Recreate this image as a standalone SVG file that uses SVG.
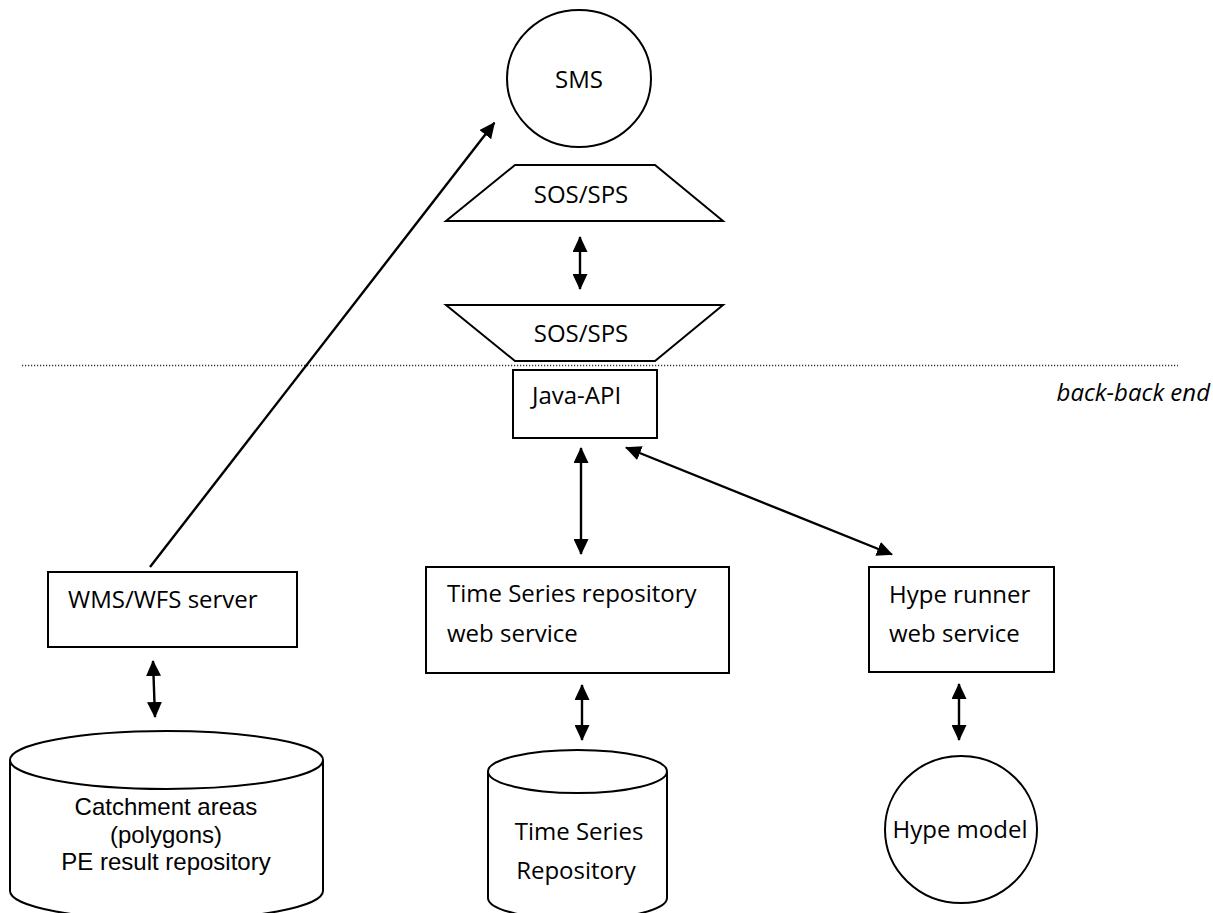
<svg xmlns="http://www.w3.org/2000/svg" width="1213" height="913" viewBox="0 0 1213 913">
  <style>
    .shape { fill: #ffffff; stroke: #000000; stroke-width: 2; }
    .lbl { font-family: "Open Sans", "Liberation Sans", sans-serif; font-size: 24px; fill: #000000; }
    .lbl-ar { font-family: "Liberation Sans", Arial, sans-serif; font-size: 24px; fill: #000000; }
    .mid { text-anchor: middle; }
    .conn { fill: none; stroke: #000000; stroke-width: 2.4; marker-end: url(#head); }
    .both { marker-start: url(#head); }
    .divider { stroke: #333333; stroke-width: 1.3; stroke-dasharray: 1.2 1.8; fill: none; }
  </style>
  <defs>
    <marker id="head" viewBox="0 0 16 15" refX="15" refY="7.5" markerWidth="16" markerHeight="15" markerUnits="userSpaceOnUse" orient="auto-start-reverse">
      <path d="M0,0 L16,7.5 L0,15 Z" fill="#000000"/>
    </marker>
  </defs>

  <rect width="1213" height="913" fill="#ffffff"/>

  <!-- tier divider -->
  <line class="divider" x1="22" y1="365.5" x2="1178" y2="365.5"/>
  <text class="lbl" x="1210" y="401" text-anchor="end" font-style="italic">back-back end</text>

  <g id="sms">
    <ellipse class="shape" cx="579" cy="78.5" rx="72" ry="68.5"/>
    <text class="lbl mid" x="579" y="88">SMS</text>
  </g>

  <g id="sos-sps-upper">
    <polygon class="shape" points="515,165 655,165 723,221 446,221"/>
    <text class="lbl mid" x="581" y="203">SOS/SPS</text>
  </g>

  <g id="sos-sps-lower">
    <polygon class="shape" points="446,305 723,305 655,361 515,361"/>
    <text class="lbl mid" x="581" y="342">SOS/SPS</text>
  </g>

  <g id="java-api">
    <rect class="shape" x="513" y="370" width="144" height="68"/>
    <text class="lbl" x="532" y="404">Java-API</text>
  </g>

  <g id="wms-wfs">
    <rect class="shape" x="48" y="572" width="249" height="75"/>
    <text class="lbl" x="68" y="608">WMS/WFS server</text>
  </g>

  <g id="ts-web-service">
    <rect class="shape" x="426" y="567" width="303" height="106"/>
    <text class="lbl" x="447" y="602">Time Series repository</text>
    <text class="lbl" x="447" y="642">web service</text>
  </g>

  <g id="hype-runner">
    <rect class="shape" x="869" y="567" width="185" height="105"/>
    <text class="lbl" x="889" y="603">Hype runner</text>
    <text class="lbl" x="889" y="642">web service</text>
  </g>

  <g id="catchment-db">
    <path class="shape" d="M10,760 L10,891 A156.5,29 0 0 0 323,891 L323,760"/>
    <ellipse class="shape" cx="166.5" cy="760" rx="156.5" ry="29"/>
    <text class="lbl-ar mid" x="166" y="815">Catchment areas</text>
    <text class="lbl-ar mid" x="166" y="843">(polygons)</text>
    <text class="lbl-ar mid" x="166" y="870">PE result repository</text>
  </g>

  <g id="ts-db">
    <path class="shape" d="M488,771.5 L488,898 A89.5,21.5 0 0 0 667,898 L667,771.5"/>
    <ellipse class="shape" cx="577.5" cy="771.5" rx="89.5" ry="21.5"/>
    <text class="lbl mid" x="579" y="840">Time Series</text>
    <text class="lbl mid" x="576" y="879">Repository</text>
  </g>

  <g id="hype-model">
    <ellipse class="shape" cx="961" cy="829.5" rx="76" ry="73.5"/>
    <text class="lbl mid" x="960" y="838">Hype model</text>
  </g>

  <g id="connectors">
    <line class="conn" x1="150" y1="567" x2="494.4" y2="122.8"/>
    <line class="conn both" x1="580" y1="237" x2="580" y2="289"/>
    <line class="conn both" x1="581" y1="448" x2="581" y2="554"/>
    <line class="conn both" x1="626" y1="447.5" x2="892" y2="554.5"/>
    <line class="conn both" x1="153" y1="661" x2="155" y2="717"/>
    <line class="conn both" x1="582" y1="685" x2="582" y2="740"/>
    <line class="conn both" x1="959" y1="684" x2="959" y2="740"/>
  </g>
</svg>
